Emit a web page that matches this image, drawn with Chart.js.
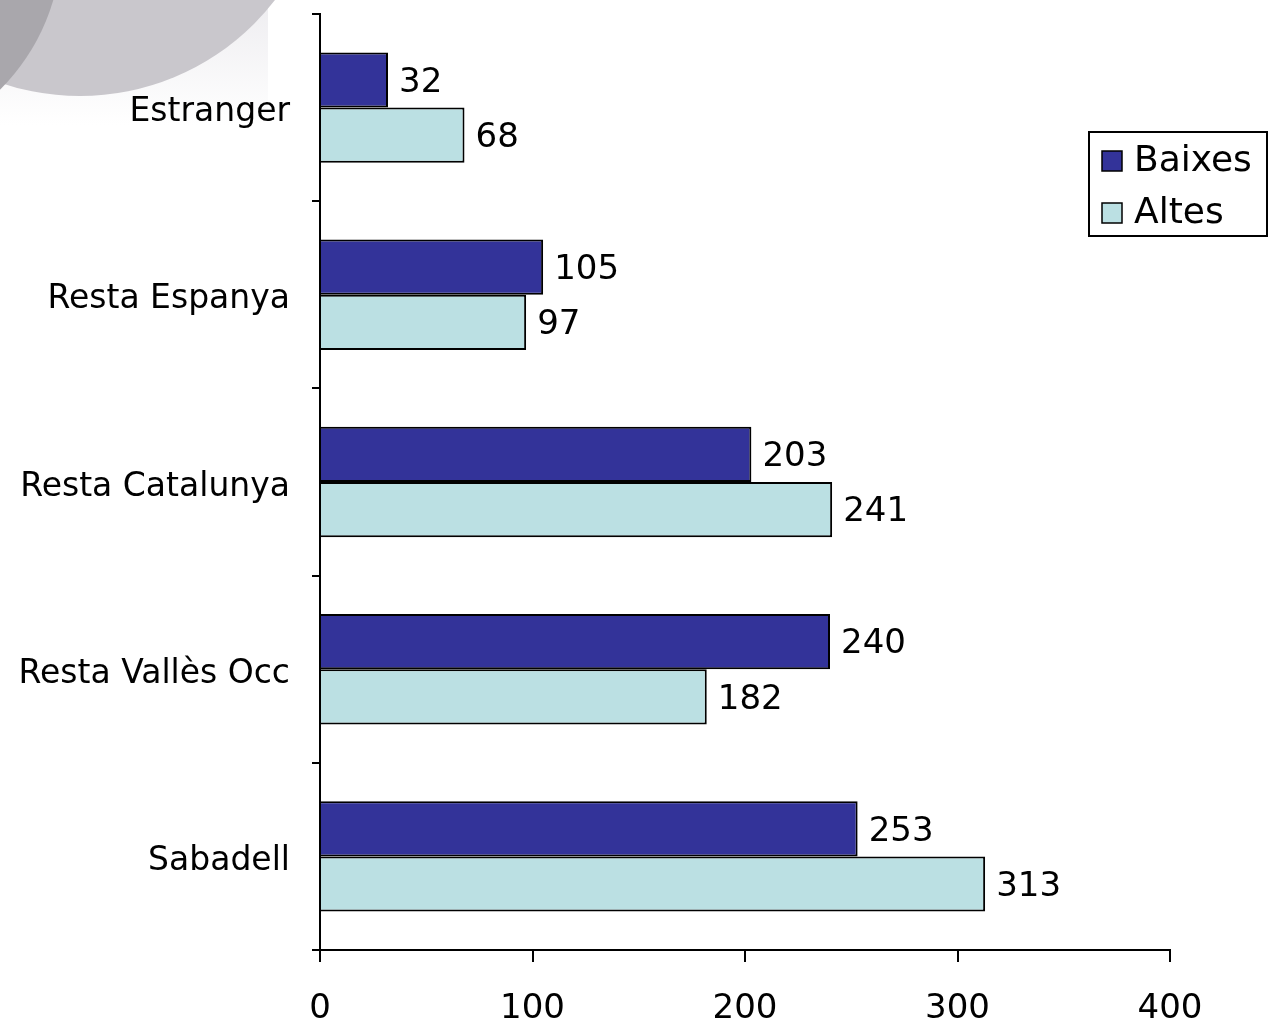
<!DOCTYPE html>
<html>
<head>
<meta charset="utf-8">
<script src="https://cdn.jsdelivr.net/npm/chart.js@4/dist/chart.umd.min.js"></script>
<style>
  html, body { margin: 0; padding: 0; background: #fff; overflow: hidden; }
  canvas { display: block; }
</style>
</head>
<body>
<canvas id="origin-chart" width="1268" height="1022"></canvas>
<script>
const categories = ['Estranger', 'Resta Espanya', 'Resta Catalunya', 'Resta Vallès Occ', 'Sabadell'];
const baixes = [32, 105, 203, 240, 253];
const altes = [68, 97, 241, 182, 313];
const xTicks = [0, 100, 200, 300, 400];

const FONT = '"DejaVu Sans", Verdana, sans-serif';

// grey decoration in the top-left corner
const backdrop = {
  id: 'backdrop',
  beforeDraw(chart) {
    const c = chart.ctx;
    c.save();
    let g = c.createLinearGradient(0, 0, 0, 125);
    g.addColorStop(0, '#eeedf0');
    g.addColorStop(1, '#ffffff');
    c.fillStyle = g;
    c.fillRect(0, 0, 268, 125);
    c.beginPath();
    c.arc(80, -150, 246, 0, Math.PI * 2);
    c.fillStyle = '#c9c7cc';
    c.fill();
    c.beginPath();
    c.arc(-150, -60, 212, 0, Math.PI * 2);
    c.fillStyle = '#a9a7ac';
    c.fill();
    c.restore();
  }
};

// value labels next to the bars
const valueLabels = {
  id: 'valueLabels',
  afterDatasetsDraw(chart) {
    const c = chart.ctx;
    c.save();
    c.font = '34px ' + FONT;
    c.fillStyle = '#000';
    c.textBaseline = 'middle';
    c.textAlign = 'left';
    chart.data.datasets.forEach((ds, i) => {
      chart.getDatasetMeta(i).data.forEach((bar, j) => {
        c.fillText(ds.data[j], bar.x + 11, bar.y + 3);
      });
    });
    c.restore();
  }
};

// boxed legend on the right
const boxLegend = {
  id: 'boxLegend',
  afterDraw(chart) {
    const c = chart.ctx;
    c.save();
    c.fillStyle = '#fff';
    c.fillRect(1088, 131, 180, 106);
    c.strokeStyle = '#000';
    c.lineWidth = 2;
    c.strokeRect(1089, 132, 178, 104);
    c.font = '36px ' + FONT;
    c.textBaseline = 'middle';
    chart.data.datasets.forEach((ds, i) => {
      const y = 161 + i * 52;
      c.fillStyle = ds.backgroundColor;
      c.fillRect(1102, y - 10, 20, 20);
      c.lineWidth = 1.5;
      c.strokeRect(1102, y - 10, 20, 20);
      c.fillStyle = '#000';
      c.fillText(ds.label, 1134, y + 1);
    });
    c.restore();
  }
};

new Chart(document.getElementById('origin-chart'), {
  type: 'bar',
  data: {
    labels: categories,
    datasets: [
      { label: 'Baixes', data: baixes, backgroundColor: '#333399', borderColor: '#000', borderWidth: 2,
        barPercentage: 1, categoryPercentage: 0.59 },
      { label: 'Altes', data: altes, backgroundColor: '#bbe0e3', borderColor: '#000', borderWidth: 2,
        barPercentage: 1, categoryPercentage: 0.59 }
    ]
  },
  options: {
    indexAxis: 'y',
    responsive: false,
    animation: false,
    layout: { padding: { top: 14, right: 98, left: 0, bottom: 0 } },
    plugins: {
      legend: { display: false },
      tooltip: { enabled: false }
    },
    scales: {
      x: {
        min: 0, max: 400,
        afterBuildTicks: (s) => { s.ticks = xTicks.map(v => ({ value: v })); },
        afterFit: (s) => { s.height = 72; s.paddingLeft = 0; s.paddingRight = 0; },
        grid: { drawOnChartArea: false, tickLength: 12, color: '#000', lineWidth: 2 },
        border: { color: '#000', width: 2 },
        ticks: { color: '#000', font: { family: FONT, size: 34 }, padding: 27 }
      },
      y: {
        afterFit: (s) => { s.width = 320; s.paddingTop = 0; s.paddingBottom = 0; },
        grid: { drawOnChartArea: false, tickLength: 8, color: '#000', lineWidth: 2, offset: true },
        border: { color: '#000', width: 2 },
        // empty first line nudges the label a few pixels down, like the original
        ticks: { color: '#000', font: { family: FONT, size: 33, lineHeight: 0.3 }, padding: 22,
                 callback: (v, i) => ['', categories[i]] }
      }
    }
  },
  plugins: [backdrop, valueLabels, boxLegend]
});
</script>
</body>
</html>
